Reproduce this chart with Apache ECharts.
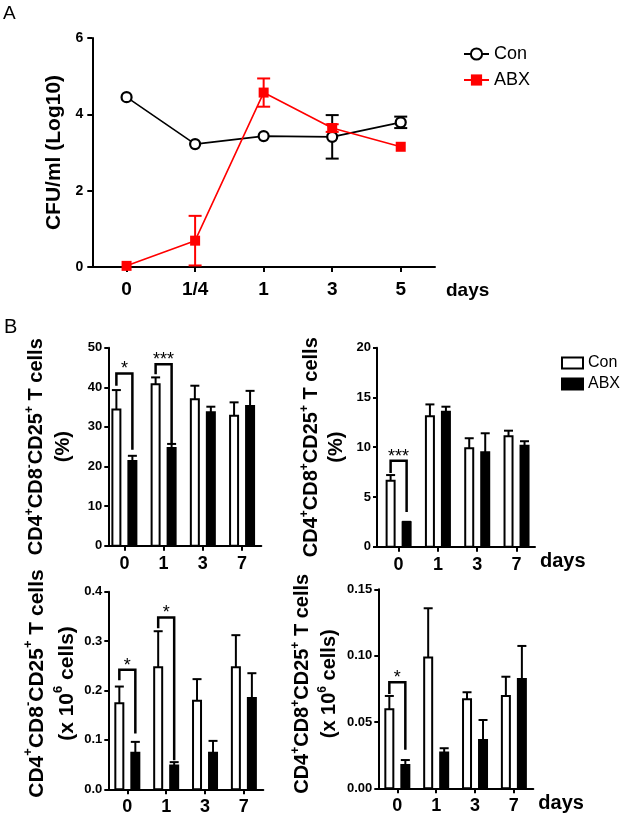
<!DOCTYPE html>
<html><head><meta charset="utf-8">
<script src="https://cdn.jsdelivr.net/npm/echarts@6/dist/echarts.min.js"></script>
<style>html,body{margin:0;padding:0;background:#fff}#c{width:625px;height:818px}</style>
</head><body><div id="c"></div>
<script>
// ---------- Panel A data ----------
const daysA = ['0', '1/4', '1', '3', '5'];
const conA = [4.45, 3.22, 3.43, 3.41, 3.79];
const conAErr = [0, 0, 0, 0.57, 0.15];
const abxA = [0.03, 0.69, 4.57, 3.64, 3.15];
const abxAErr = [0, 0.65, 0.37, 0.10, 0];

// ---------- Panel B data ----------
const daysB = ['0', '1', '3', '7'];
// CD4+CD8-CD25+ (%)
const con1 = [34.4, 40.8, 37.0, 32.8];
const con1Err = [4.9, 1.7, 3.4, 3.4];
const abx1 = [21.4, 24.7, 33.7, 35.3];
const abx1Err = [1.3, 1.0, 1.4, 3.8];
// CD4+CD8+CD25+ (%)
const con2 = [6.63, 13.1, 9.9, 11.1];
const con2Err = [0.57, 1.2, 1.0, 0.56];
const abx2 = [2.45, 13.57, 9.5, 10.15];
const abx2Err = [0.05, 0.5, 1.9, 0.45];
// CD4+CD8-CD25+ (x10^6 cells)
const con3 = [0.174, 0.247, 0.179, 0.247];
const con3Err = [0.034, 0.073, 0.044, 0.065];
const abx3 = [0.074, 0.048, 0.074, 0.185];
const abx3Err = [0.022, 0.007, 0.024, 0.050];
// CD4+CD8+CD25+ (x10^6 cells)
const con4 = [0.0595, 0.0985, 0.0671, 0.0696];
const con4Err = [0.0101, 0.0372, 0.0053, 0.0145];
const abx4 = [0.0176, 0.0269, 0.0364, 0.0824];
const abx4Err = [0.0037, 0.0033, 0.0151, 0.0249];
// significance brackets: [day index, bracket top, left end, right end]
const sig1 = [[0, 43.5, 40.4, 24.2], [1, 45.8, 43.3, 25.4]];
const sig1Labels = ['*', '***'];
const sig2 = [[0, 8.65, 7.4, 3.5]];
const sig2Labels = ['***'];
const sig3 = [[0, 0.242, 0.221, 0.113], [1, 0.348, 0.326, 0.059]];
const sig3Labels = ['*', '*'];
const sig4 = [[0, 0.080, 0.071, 0.029]];
const sig4Labels = ['*'];

const FF = '"Liberation Sans", Arial, sans-serif';
const chart = echarts.init(document.getElementById('c'), null, {renderer: 'canvas'});

// ---------- helpers ----------
const OFF_CON = -8, OFF_ABX = 8, BW = 8;
function barRender(off, fill) {
  return function (params, api) {
    const i = api.value(0), v = api.value(1), e = api.value(2);
    const top = api.coord([i, v]);
    const base = api.coord([i, 0]);
    const et = api.coord([i, v + e]);
    const x = top[0] + off;
    return {
      type: 'group',
      children: [
        {type: 'line', shape: {x1: x, y1: top[1], x2: x, y2: et[1]}, style: {stroke: '#000', lineWidth: 2}},
        {type: 'line', shape: {x1: x - 4.5, y1: et[1], x2: x + 4.5, y2: et[1]}, style: {stroke: '#000', lineWidth: 2}},
        {type: 'rect', shape: {x: x - BW / 2, y: top[1], width: BW, height: base[1] - top[1]},
          style: {fill: fill, stroke: '#000', lineWidth: 2}}
      ]
    };
  };
}
function sigRender(labels) {
  return function (params, api) {
    const i = api.value(0);
    const t = api.coord([i, api.value(1)]);
    const l = api.coord([i, api.value(2)]);
    const r = api.coord([i, api.value(3)]);
    const xl = t[0] + OFF_CON, xr = t[0] + OFF_ABX;
    return {
      type: 'group',
      children: [
        {type: 'polyline', shape: {points: [[xl, l[1]], [xl, t[1]], [xr, t[1]], [xr, r[1]]]},
          style: {stroke: '#000', lineWidth: 2.5, fill: null}},
        {type: 'text', style: {text: labels[params.dataIndex], x: (xl + xr) / 2, y: t[1] + 5, align: 'center',
          verticalAlign: 'bottom', fontSize: 18, fontFamily: FF, fill: '#000'}}
      ]
    };
  };
}
function errRenderA(color) {
  return function (params, api) {
    const i = api.value(0), v = api.value(1), e = api.value(2);
    if (!e) return null;
    const hi = api.coord([i, v + e]), lo = api.coord([i, v - e]);
    const x = hi[0];
    return {
      type: 'group',
      children: [
        {type: 'line', shape: {x1: x, y1: lo[1], x2: x, y2: hi[1]}, style: {stroke: color, lineWidth: 2}},
        {type: 'line', shape: {x1: x - 6.5, y1: lo[1], x2: x + 6.5, y2: lo[1]}, style: {stroke: color, lineWidth: 2}},
        {type: 'line', shape: {x1: x - 6.5, y1: hi[1], x2: x + 6.5, y2: hi[1]}, style: {stroke: color, lineWidth: 2}}
      ]
    };
  };
}

const axisLine = {show: true, onZero: false, lineStyle: {color: '#000', width: 2}};
const axisTick = {show: true, length: 5, lineStyle: {color: '#000', width: 2}};

function richFor(fs, lh) {
  return {
    b: {fontSize: fs, fontWeight: 'bold', fontFamily: FF, color: '#000', lineHeight: lh},
    s: {fontSize: Math.round(fs * 0.6), fontWeight: 'bold', fontFamily: FF, color: '#000', lineHeight: Math.round(fs * 0.9), verticalAlign: 'top'}
  };
}
const titlePct8m = '{b|CD4}{s|+}{b|CD8}{s|-}{b|CD25}{s|+}{b| T cells}\n{b|(%)}';
const titlePct8p = '{b|CD4}{s|+}{b|CD8}{s|+}{b|CD25}{s|+}{b| T cells}\n{b|(%)}';
const titleAbs8m = '{b|CD4}{s|+}{b|CD8}{s|-}{b|CD25}{s|+}{b| T cells}\n{b|(x 10}{s|6}{b| cells)}';
const titleAbs8p = '{b|CD4}{s|+}{b|CD8}{s|+}{b|CD25}{s|+}{b| T cells}\n{b|(x 10}{s|6}{b| cells)}';

const panels = [
  {grid: {left: 108.3, top: 347.7, width: 153, height: 198}, xmin: -0.41, xmax: 3.49, ymax: 50, interval: 10, dec: 0,
    title: titlePct8m, rich: richFor(20, 27), gap: 31, pad: [0, 0, 0, 0], days: false,
    con: con1, conErr: con1Err, abx: abx1, abxErr: abx1Err, sig: sig1, sigL: sig1Labels},
  {grid: {left: 377, top: 347.7, width: 158, height: 199}, xmin: -0.55, xmax: 3.47, ymax: 20, interval: 5, dec: 0,
    title: titlePct8p, rich: richFor(20, 25), gap: 28, pad: [0, 0, 0, 0], days: true,
    con: con2, conErr: con2Err, abx: abx2, abxErr: abx2Err, sig: sig2, sigL: sig2Labels},
  {grid: {left: 108.3, top: 591.7, width: 155, height: 197.6}, xmin: -0.49, xmax: 3.5, ymax: 0.4, interval: 0.1, dec: 1,
    title: titleAbs8m, rich: richFor(21, 30), gap: 26, pad: [0, 0, 0, 14], days: false,
    con: con3, conErr: con3Err, abx: abx3, abxErr: abx3Err, sig: sig3, sigL: sig3Labels},
  {grid: {left: 378.3, top: 589.3, width: 155, height: 199}, xmin: -0.49, xmax: 3.5, ymax: 0.15, interval: 0.05, dec: 2,
    title: titleAbs8p, rich: richFor(20, 27), gap: 35, pad: [0, 0, 0, 10], days: true,
    con: con4, conErr: con4Err, abx: abx4, abxErr: abx4Err, sig: sig4, sigL: sig4Labels}
];

const grids = [{left: 92.3, top: 38, width: 342.7, height: 229}];
const xAxes = [{
  type: 'category', gridIndex: 0, data: daysA, boundaryGap: true,
  axisLine, axisTick: Object.assign({alignWithLabel: true}, axisTick),
  axisLabel: {fontSize: 19, fontWeight: 'bold', fontFamily: FF, color: '#000', margin: 13},
  name: 'days', nameLocation: 'end', nameGap: 11,
  nameTextStyle: {fontSize: 19, fontWeight: 'bold', fontFamily: FF, color: '#000', verticalAlign: 'top', align: 'left', padding: [14, 0, 0, 0]}
}];
const yAxes = [{
  type: 'value', gridIndex: 0, min: 0, max: 6, interval: 2, splitLine: {show: false},
  axisLine, axisTick,
  axisLabel: {fontSize: 14, fontWeight: 'bold', fontFamily: FF, color: '#000', margin: 9},
  name: 'CFU/ml (Log10)', nameLocation: 'middle', nameRotate: 90, nameGap: 25,
  nameTextStyle: {fontSize: 21, fontWeight: 'bold', fontFamily: FF, color: '#000'}
}];
const series = [
  {type: 'custom', name: 'errCon', xAxisIndex: 0, yAxisIndex: 0, z: 2,
    data: conA.map((v, i) => [i, v, conAErr[i]]), renderItem: errRenderA('#000')},
  {type: 'line', name: 'Con', xAxisIndex: 0, yAxisIndex: 0, data: conA, z: 3,
    symbol: 'circle', symbolSize: 10, lineStyle: {color: '#000', width: 1.6},
    itemStyle: {color: '#fff', borderColor: '#000', borderWidth: 2.2}},
  {type: 'custom', name: 'errABX', xAxisIndex: 0, yAxisIndex: 0, z: 4,
    data: abxA.map((v, i) => [i, v, abxAErr[i]]), renderItem: errRenderA('#f00')},
  {type: 'line', name: 'ABX', xAxisIndex: 0, yAxisIndex: 0, data: abxA, z: 5,
    symbol: 'rect', symbolSize: 10, lineStyle: {color: '#f00', width: 1.6},
    itemStyle: {color: '#f00', borderColor: '#f00', borderWidth: 0}}
];

panels.forEach((p, k) => {
  const gi = k + 1;
  grids.push(p.grid);
  xAxes.push({
    type: 'value', gridIndex: gi, min: p.xmin, max: p.xmax, splitLine: {show: false},
    axisLine,
    axisTick: Object.assign({customValues: [0, 1, 2, 3]}, axisTick),
    axisLabel: {customValues: [0, 1, 2, 3], formatter: v => daysB[Math.round(v)],
      fontSize: 18, fontWeight: 'bold', fontFamily: FF, color: '#000', margin: 9},
    name: p.days ? 'days' : '', nameLocation: 'end', nameGap: 5,
    nameTextStyle: {fontSize: 20, fontWeight: 'bold', fontFamily: FF, color: '#000', verticalAlign: 'top', align: 'left', padding: [5, 0, 0, 0]}
  });
  yAxes.push({
    type: 'value', gridIndex: gi, min: 0, max: p.ymax, interval: p.interval, splitLine: {show: false},
    axisLine, axisTick: Object.assign({}, axisTick, {length: 4}),
    axisLabel: {fontSize: 13, fontWeight: 'bold', fontFamily: FF, color: '#000', margin: 6,
      formatter: v => v.toFixed(p.dec)},
    name: p.title, nameLocation: 'middle', nameRotate: 90, nameGap: p.gap,
    nameTextStyle: {rich: p.rich, padding: p.pad, align: 'center'}
  });
  series.push({type: 'custom', name: 'Con B', xAxisIndex: gi, yAxisIndex: gi, z: 3,
    itemStyle: {color: '#fff', borderColor: '#000', borderWidth: 2},
    data: p.con.map((v, i) => [i, v, p.conErr[i]]), renderItem: barRender(OFF_CON, '#fff')});
  series.push({type: 'custom', name: 'ABX B', xAxisIndex: gi, yAxisIndex: gi, z: 3,
    itemStyle: {color: '#000', borderColor: '#000', borderWidth: 2},
    data: p.abx.map((v, i) => [i, v, p.abxErr[i]]), renderItem: barRender(OFF_ABX, '#000')});
  series.push({type: 'custom', name: 'sig' + k, xAxisIndex: gi, yAxisIndex: gi, z: 4,
    data: p.sig, renderItem: sigRender(p.sigL)});
});

chart.setOption({
  animation: false,
  backgroundColor: '#fff',
  graphic: [
    {type: 'text', left: 3, top: 4, style: {text: 'A', fontSize: 19, fontFamily: FF, fill: '#000'}},
    {type: 'text', left: 4, top: 317, style: {text: 'B', fontSize: 20, fontFamily: FF, fill: '#000'}}
  ],
  legend: [
    {orient: 'vertical', left: 458, top: 40, itemWidth: 25, itemHeight: 14, itemGap: 8,
      textStyle: {fontSize: 18, fontFamily: FF, color: '#000'},
      data: ['Con', 'ABX']},
    {orient: 'vertical', left: 556, top: 350, itemWidth: 21, itemHeight: 11, itemGap: 5,
      formatter: n => n.replace(' B', ''),
      textStyle: {fontSize: 16, fontFamily: FF, color: '#000'},
      data: [{name: 'Con B', icon: 'rect', itemStyle: {color: '#fff', borderColor: '#000', borderWidth: 2}},
             {name: 'ABX B', icon: 'rect', itemStyle: {color: '#000', borderColor: '#000', borderWidth: 2}}]}
  ],
  grid: grids,
  xAxis: xAxes,
  yAxis: yAxes,
  series: series
});
</script></body></html>
